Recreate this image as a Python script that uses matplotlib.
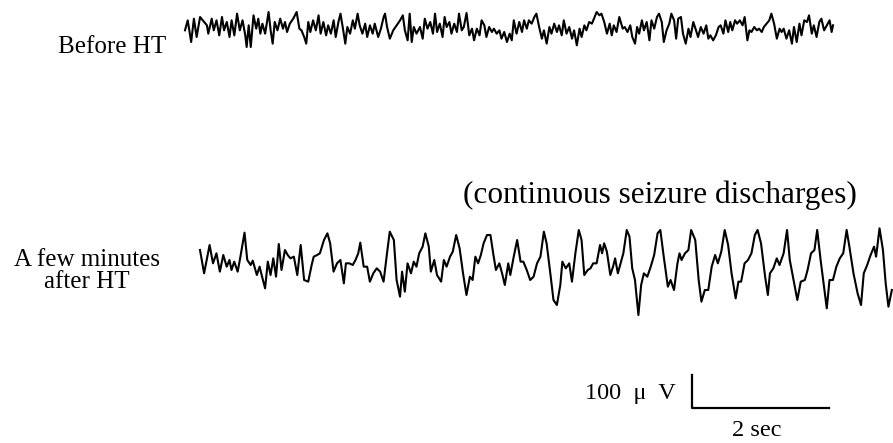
# eeg_traces.py
import matplotlib
matplotlib.use("Agg")
import matplotlib.pyplot as plt

# ============================
# 1. Data: time in s, amplitude in uV
# ============================
before_t = [0.00, 0.04, 0.09, 0.13, 0.17, 0.22, 0.32, 0.34, 0.39, 0.42, 0.46, 0.50, 0.54, 0.57,
            0.61, 0.65, 0.68, 0.72, 0.76, 0.80, 0.84, 0.88, 0.90, 0.93, 0.96, 1.00, 1.04, 1.07,
            1.10, 1.13, 1.17, 1.22, 1.25, 1.28, 1.31, 1.35, 1.39, 1.43, 1.46, 1.49, 1.53, 1.58,
            1.63, 1.67, 1.70, 1.74, 1.77, 1.80, 1.83, 1.87, 1.91, 1.95, 1.98, 2.02, 2.06, 2.09,
            2.13, 2.17, 2.20, 2.24, 2.27, 2.31, 2.34, 2.37, 2.41, 2.45, 2.48, 2.52, 2.55, 2.59,
            2.63, 2.66, 2.70, 2.74, 2.77, 2.82, 2.86, 2.90, 2.92, 2.95, 2.99, 3.04, 3.09, 3.14,
            3.18, 3.21, 3.25, 3.28, 3.31, 3.34, 3.38, 3.43,
            3.47, 3.50, 3.54, 3.58, 3.62, 3.65, 3.68, 3.72, 3.76, 3.79, 3.82, 3.86, 3.89, 3.93,
            3.97, 4.00, 4.04, 4.07, 4.11, 4.15, 4.19, 4.22, 4.26, 4.30, 4.33, 4.37, 4.40, 4.44,
            4.48, 4.51, 4.55, 4.59, 4.62, 4.66, 4.70, 4.74, 4.77, 4.80, 4.84, 4.88, 4.92, 4.95,
            4.99, 5.02, 5.06, 5.10, 5.13, 5.17, 5.21, 5.24, 5.28, 5.32, 5.35, 5.39, 5.43, 5.46,
            5.50, 5.53, 5.57, 5.61, 5.65, 5.68, 5.72, 5.76, 5.79, 5.83, 5.86, 5.90, 5.94, 5.97,
            6.01, 6.05, 6.08, 6.12, 6.16, 6.20, 6.23, 6.26, 6.30, 6.34,
            6.39, 6.42, 6.46, 6.50, 6.53, 6.57, 6.60, 6.63, 6.67, 6.70, 6.74, 6.78, 6.81, 6.85,
            6.89, 6.92, 6.96, 6.99, 7.03, 7.07, 7.10, 7.14, 7.17, 7.20, 7.24, 7.27, 7.31, 7.35,
            7.38, 7.42, 7.46, 7.49, 7.53, 7.57, 7.61, 7.64, 7.67, 7.71, 7.75, 7.79, 7.82, 7.86,
            7.89, 7.93, 7.96, 7.99, 8.03, 8.06, 8.10, 8.14, 8.17, 8.21, 8.24, 8.27, 8.31, 8.35,
            8.38, 8.42, 8.45, 8.49, 8.53, 8.56, 8.60, 8.64, 8.68, 8.71, 8.74, 8.78, 8.82, 8.86,
            8.89, 8.93, 8.97, 9.00, 9.04, 9.08, 9.11, 9.15, 9.18, 9.22, 9.26, 9.29, 9.33, 9.37,
            9.41, 9.44, 9.46]
before_uv = [-10, 20, -45, 25, -30, 30, 5, -20, 25, -10, 20, -25, 30, -10,
             15, -30, 20, -25, 40, -10, 20, -25, -60, 5, -60, 35, -5, 25,
             -20, 10, -20, 45, -10, -50, 15, -10, 25, -5, 15, -15, 10, 25,
             45, -5, -10, -30, -50, 15, -15, 20, -10, 35, -20, 15, -25, 5,
             -20, 20, -30, 15, 40, -10, -50, 0, -20, 20, -5, 40, 5, -20,
             10, -30, 5, -20, 10, -30, -5, 30, 40, 0, -35, -10, 5, 20,
             35, -10, -40, 40, -45, 0, -20, 0,
             -35, 25, -5, 15, -20, 40, -15, 10, -30, 30, 0, 15, -20, 10,
             -15, 40, -10, 0, 42, -25, -5, -40, -5, -25, 20, 5, -30, 0,
             -15, -5, -20, -10, -35, -15, -45, -20, -40, 20, -20, 15, -15, 20,
             -5, 20, 10, 30, 40, 0, -35, -10, -50, 0, -20, 10, -15, 5,
             -25, 20, -20, 0, -35, -10, -55, -5, -30, 5, -10, 15, 10, 25,
             45, 35, 40, 15, -20, 10, -25, 5, -15, 30,
             -5, 0, -15, 5, -30, -50, 0, -20, 20, -10, 15, -40, 20, -5,
             30, 40, 15, -45, -10, 10, 40, 20, -35, 25, 30, -20, -50, -5,
             -30, 15, -10, -30, 0, -20, 5, -35, -25, -40, -25, 0, 5, -20,
             20, -15, 15, -10, 20, 10, 20, 5, 30, -40, -10, -15, 0, -10,
             -5, -15, 0, 10, 20, 40, 10, -35, -5, -15, -5, -35, -10, -50,
             0, -45, 10, -25, 20, 15, 35, -20, 5, -30, 15, 25, -10, 5,
             20, -15, 5]

after_t = [0.00, 0.06, 0.14, 0.19, 0.24, 0.29, 0.34, 0.39, 0.43, 0.46, 0.50, 0.55, 0.59, 0.65,
           0.69, 0.74, 0.77, 0.83, 0.87, 0.90, 0.95, 0.99, 1.03, 1.07, 1.11, 1.15, 1.19, 1.24,
           1.28, 1.32, 1.37, 1.42, 1.47, 1.52, 1.58, 1.63, 1.66, 1.71, 1.75, 1.81, 1.86, 1.90,
           1.95, 2.00, 2.05, 2.10, 2.13, 2.18, 2.23, 2.27, 2.31, 2.34, 2.39, 2.44, 2.48, 2.53,
           2.58, 2.63, 2.68, 2.73, 2.77, 2.83, 2.87, 2.92, 2.95, 2.99, 3.03, 3.08, 3.12, 3.16,
           3.20, 3.25, 3.29, 3.34, 3.37, 3.42, 3.46, 3.52, 3.56, 3.60, 3.65, 3.69, 3.74, 3.79,
           3.84, 3.89, 3.94, 3.98, 4.02, 4.06, 4.10, 4.14, 4.19, 4.24, 4.28, 4.32, 4.37, 4.41,
           4.45, 4.50, 4.53, 4.58, 4.63, 4.68, 4.72, 4.77, 4.82, 4.87, 4.92, 4.97, 5.02, 5.06,
           5.12, 5.16, 5.21, 5.26, 5.29, 5.34, 5.39, 5.43, 5.48, 5.53, 5.57, 5.61, 5.66, 5.70,
           5.74, 5.79, 5.84, 5.87, 5.90, 5.94, 5.99, 6.03, 6.06, 6.10, 6.14, 6.18, 6.23, 6.27,
           6.31, 6.35, 6.40, 6.44, 6.48, 6.53, 6.58, 6.63, 6.68, 6.72, 6.77, 6.83, 6.87, 6.92,
           6.97, 7.00, 7.03, 7.08, 7.13, 7.17, 7.23, 7.28, 7.32, 7.37, 7.42, 7.47, 7.52, 7.56,
           7.61, 7.66, 7.71, 7.76, 7.82, 7.86, 7.90, 7.95, 8.00, 8.05, 8.10, 8.14, 8.19, 8.25,
           8.29, 8.32, 8.37, 8.42, 8.46, 8.52, 8.57, 8.61, 8.66, 8.72, 8.77, 8.83, 8.87, 8.92,
           8.97, 9.01, 9.06, 9.11, 9.15, 9.19, 9.24, 9.29, 9.34, 9.39, 9.44, 9.48, 9.54, 9.60,
           9.65, 9.69, 9.74, 9.79, 9.84, 9.87, 9.92, 9.97, 10.01, 10.05, 10.10]
after_uv = [60, -10, 75, 20, 50, -5, 45, 10, 30, 0, 25, -5, 40, 112,
            30, 15, 28, -15, 10, -15, -55, 25, -15, 35, -20, 78, 0, 60,
            45, 35, 40, -15, 75, -30, -35, 15, 40, 45, 50, 90, 110, 80,
            -5, 20, 30, -40, 20, 20, 15, 30, 50, 82, 10, 10, -35, -10,
            5, -5, -35, 50, 115, 90, -30, -80, -5, -65, 20, -10, 25, 10,
            50, 70, 110, 70, -5, 30, -15, -35, 30, 10, 40, 55, 105, 65,
            -10, -75, -20, -30, 40, 20, 45, 80, 105, 105, 50, 0, 20, -10,
            -45, 20, -15, 40, 90, 25, 25, 0, -30, -20, 20, 40, 115, 80,
            -20, -90, -105, -45, 25, 5, 20, -35, 50, 120, 90, -15, 0, 5,
            20, 20, 75, 50, 80, 55, -15, 10, 35, -10, 20, 50, 120, 100,
            5, -30, -135, -45, -10, -20, 10, 45, 110, 120, 40, -50, -30, -60,
            20, 50, 30, 50, 60, 120, 90, -30, -95, -60, -60, 10, 45, 20,
            55, 120, 75, -10, -85, -35, -35, 20, 30, 50, 105, 120, 80, -20,
            -75, -10, 5, 35, 15, 50, 120, 30, -25, -90, -35, -30, 0, 50,
            60, 120, 30, -50, -115, -30, -30, 10, 35, 50, 120, 70, -10, -70,
            -105, -10, 15, 45, 70, 40, 125, 60, -40, -110, -60]

# подписи
label_before = "Before HT"
label_after = "A few minutes\nafter HT"
note_after = "(continuous seizure discharges)"
scale_uv = 100
scale_sec = 2
scale_uv_text = "100  \u03bc  V"
scale_sec_text = "2 sec"

# ============================
# 2. Layout (pixels of a 893x443 figure)
# ============================
W, H = 893, 443
PX_PER_SEC = 68.5
UV_PER_PX = 3.0
SERIF = ["Liberation Serif", "DejaVu Serif"]


def box(left, top, width, height):
    # pixel box -> figure fraction
    return [left / W, (H - top - height) / H, width / W, height / H]


def bare(ax):
    ax.set_axis_off()
    ax.patch.set_alpha(0)


fig = plt.figure(figsize=(W / 100, H / 100), dpi=100)

# верхняя запись
ax1 = fig.add_axes(box(185, -3, 708, 60))
ax1.plot(before_t, before_uv, color="black", lw=1.5, clip_on=False)
ax1.set_xlim(0, 708 / PX_PER_SEC)
ax1.set_ylim(-30 * UV_PER_PX, 30 * UV_PER_PX)
bare(ax1)

# нижняя запись
ax2 = fig.add_axes(box(200, 220, 693, 100))
ax2.plot(after_t, after_uv, color="black", lw=1.5, clip_on=False)
ax2.set_xlim(0, 693 / PX_PER_SEC)
ax2.set_ylim(-50 * UV_PER_PX, 50 * UV_PER_PX)
bare(ax2)

# масштабная линейка
ax3 = fig.add_axes(box(692, 408 - scale_uv / UV_PER_PX, scale_sec * PX_PER_SEC, scale_uv / UV_PER_PX))
ax3.plot([0, 0, scale_sec], [scale_uv, 0, 0], color="black", lw=1.6, clip_on=False)
ax3.set_xlim(0, scale_sec)
ax3.set_ylim(0, scale_uv)
bare(ax3)

# ============================
# 3. Text
# ============================
fig.text(166 / W, 1 - 47 / H, label_before, ha="right", va="center",
         family=SERIF, fontsize=18)
fig.text(87 / W, 1 - 271 / H, label_after, ha="center", va="center",
         family=SERIF, fontsize=18, linespacing=1.0)
fig.text(660 / W, 1 - 195 / H, note_after, ha="center", va="center",
         family=SERIF, fontsize=22.5)
fig.text(676 / W, 1 - 394 / H, scale_uv_text, ha="right", va="center",
         family=SERIF, fontsize=17.5)
fig.text(757 / W, 1 - 431 / H, scale_sec_text, ha="center", va="center",
         family=SERIF, fontsize=17.5)

fig.savefig("out.png", dpi=100)
